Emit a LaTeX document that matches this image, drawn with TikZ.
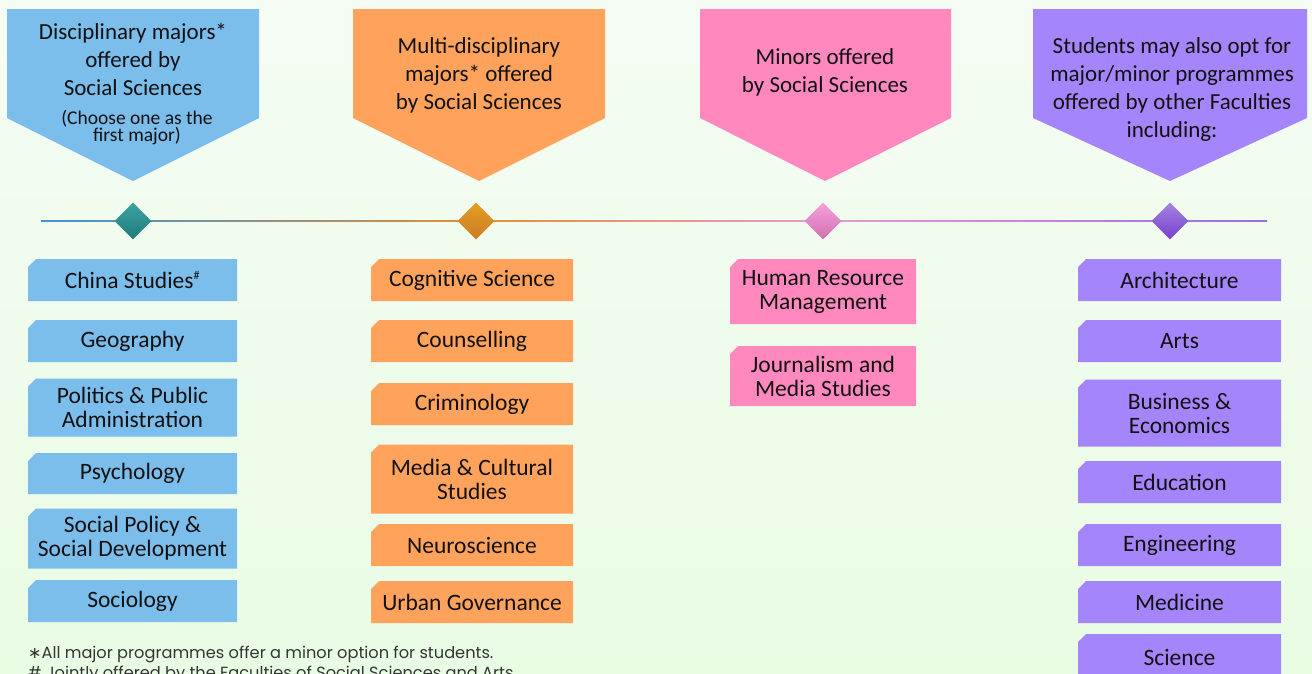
\documentclass[tikz,border=0pt]{standalone}
\usepackage{fontspec}
\setmainfont{Carlito}
\newfontfamily\notefont{Poppins}
\newfontfamily\symfont{DejaVu Sans}
\usetikzlibrary{shapes.geometric,calc}
\definecolor{bgtop}{HTML}{F5FCF4}
\definecolor{bgbot}{HTML}{E9FCE4}
\definecolor{cblue}{HTML}{7BBDEB}
\definecolor{corange}{HTML}{FFA35C}
\definecolor{cpink}{HTML}{FF89BE}
\definecolor{cpurple}{HTML}{A585FC}
\definecolor{lblue}{HTML}{3F93D3}
\definecolor{lorange}{HTML}{E0903A}
\definecolor{lpink}{HTML}{E79BD0}
\definecolor{lpurple}{HTML}{9A6EDF}
\definecolor{dAt}{HTML}{3AA3A0}
\definecolor{dAm}{HTML}{4A82B2}
\definecolor{dAb}{HTML}{1F7C7C}
\definecolor{dBt}{HTML}{E3A024}
\definecolor{dBb}{HTML}{CC7A22}
\definecolor{dCt}{HTML}{F7A0DC}
\definecolor{dCb}{HTML}{CF70B0}
\definecolor{dDt}{HTML}{A483E2}
\definecolor{dDb}{HTML}{7840CC}
\definecolor{txt}{HTML}{111111}
\tikzset{
  x=1pt, y=-1pt,
  headshape/.style={fill=#1},
  headtext/.style={align=center, text=txt, font=\fontsize{23}{28}\selectfont, inner sep=0pt},
  subtext/.style={align=center, text=txt, font=\fontsize{19.5}{17}\selectfont, inner sep=0pt},
  prog/.style={inner sep=0pt, align=center, text=txt,
    font=\fontsize{23.5}{24}\selectfont,
    path picture={\fill[#1] (path picture bounding box.south west)
      -- ([yshift=-8pt]path picture bounding box.north west)
      -- ([xshift=8pt]path picture bounding box.north west)
      -- (path picture bounding box.north east)
      -- (path picture bounding box.south east) -- cycle;}},
  colA/.style={prog=cblue, minimum width=209pt},
  colB/.style={prog=corange, minimum width=202pt},
  colC/.style={prog=cpink, minimum width=186pt},
  colD/.style={prog=cpurple, minimum width=203pt},
  gem/.style={diamond, inner sep=0pt, minimum width=37pt, minimum height=37pt},
  note/.style={anchor=west, inner sep=0pt, text=txt!85, font=\notefont\fontsize{16.2}{17}\selectfont}
}
\begin{document}
\begin{tikzpicture}
\useasboundingbox (0,0) rectangle (1312,673);
\clip (0,0) rectangle (1312,673);
\shade[top color=bgtop, bottom color=bgbot] (0,0) rectangle (1312,673);

% headers
\fill[headshape=cblue] (7,9) -- (259,9) -- (259,118) -- (133,181) -- (7,118) -- cycle;
\fill[headshape=corange] (353,9) -- (605,9) -- (605,118) -- (479,181) -- (353,118) -- cycle;
\fill[headshape=cpink] (700,9) -- (951,9) -- (951,118) -- (825,181) -- (700,118) -- cycle;
\fill[headshape=cpurple] (1033,9) -- (1307,9) -- (1307,118) -- (1170,181) -- (1033,118) -- cycle;

\node[headtext] (h1) at (133,59) {Disciplinary majors*\\offered by\\Social Sciences};
\node[subtext] (h1s) at (137,127.5) {(Choose one as the\\first major)};
\node[headtext] (h2) at (479,75.5) {Multi-disciplinary\\majors* offered\\by Social Sciences};
\node[headtext] (h3) at (825,72.5) {Minors offered\\by Social Sciences};
\node[headtext] (h4) at (1172,89) {Students may also opt for\\major/minor programmes\\offered by other Faculties\\including:};

% timeline
\coordinate (tl0) at (41,221);
\coordinate (tl1) at (1267,221);
\coordinate (p1) at (133,221);
\coordinate (p2) at (476,221);
\coordinate (p3) at (823,221);
\coordinate (p4) at (1170,221);
\shade[left color=lblue, right color=lorange] ([yshift=-0.9pt]tl0) rectangle ([yshift=0.9pt]p2);
\shade[left color=lorange, right color=lpink] ([yshift=-0.9pt]p2) rectangle ([yshift=0.9pt]p3);
\shade[left color=lpink, right color=lpurple] ([yshift=-0.9pt]p3) rectangle ([yshift=0.9pt]tl1);
\node[gem, top color=dAt, middle color=dAm, bottom color=dAb] (d1) at (p1) {};
\node[gem, top color=dBt, bottom color=dBb] (d2) at (p2) {};
\node[gem, top color=dCt, bottom color=dCb] (d3) at (p3) {};
\node[gem, top color=dDt, bottom color=dDb] (d4) at (p4) {};

% column 1
\node[colA, minimum height=42pt] (a1) at (132.5,280) {China Studies\textsuperscript{\fontsize{12}{12}\selectfont\#}};
\node[colA, minimum height=42pt] (a2) at (132.5,341) {Geography};
\node[colA, minimum height=58pt] (a3) at (132.5,407.5) {Politics \& Public\\Administration};
\node[colA, minimum height=41pt] (a4) at (132.5,473.5) {Psychology};
\node[colA, minimum height=60pt] (a5) at (132.5,538.5) {Social Policy \&\\Social Development};
\node[colA, minimum height=42pt] (a6) at (132.5,601) {Sociology};

% column 2
\node[colB, minimum height=42pt] (b1) at (472,280) {Cognitive Science};
\node[colB, minimum height=42pt] (b2) at (472,341) {Counselling};
\node[colB, minimum height=42pt] (b3) at (472,404) {Criminology};
\node[colB, minimum height=69pt] (b4) at (472,479) {Media \& Cultural\\Studies};
\node[colB, minimum height=42pt] (b5) at (472,545) {Neuroscience};
\node[colB, minimum height=42pt] (b6) at (472,602) {Urban Governance};

% column 3
\node[colC, minimum height=65pt] (c1) at (823,291.5) {Human Resource\\Management};
\node[colC, minimum height=60pt] (c2) at (823,376) {Journalism and\\Media Studies};

% column 4
\node[colD, minimum height=42pt] (e1) at (1179.5,280) {Architecture};
\node[colD, minimum height=42pt] (e2) at (1179.5,341) {Arts};
\node[colD, minimum height=67pt] (e3) at (1179.5,413) {Business \&\\Economics};
\node[colD, minimum height=42pt] (e4) at (1179.5,482) {Education};
\node[colD, minimum height=42pt] (e5) at (1179.5,545) {Engineering};
\node[colD, minimum height=42pt] (e6) at (1179.5,602) {Medicine};
\node[colD, minimum height=46pt] (e7) at (1179.5,657) {Science};

% notes
\node[note] (n1) at (28,654) {{\symfont\fontsize{16}{17}\selectfont ∗}All major programmes offer a minor option for students.};
\node[note] (n2) at (28,674) {\# Jointly offered by the Faculties of Social Sciences and Arts.};
\end{tikzpicture}
\end{document}
